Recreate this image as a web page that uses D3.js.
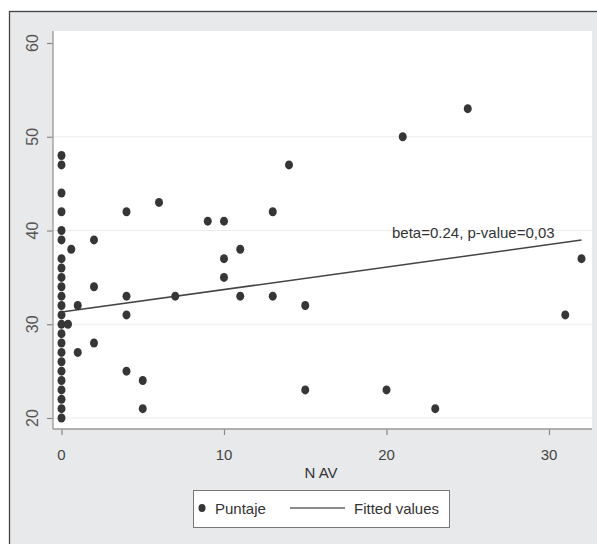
<!DOCTYPE html>
<html>
<head>
<meta charset="utf-8">
<script src="https://cdn.jsdelivr.net/npm/d3@7"></script>
<style>
  body { margin: 0; background: #fff; }
  text { font-family: "Liberation Sans", Arial, sans-serif; }
</style>
</head>
<body>
<div id="chart"></div>
<script>
/*
 *  DATA
 */
var nav = [0,0,0,0,0,0,0,0,0,0,0,0,0,0,0,0,0,0,0,0,0,0,0,0,
           0.6,0.4,1,1,2,2,2,4,4,4,4,5,5,6,7,9,10,10,10,11,11,13,13,14,15,15,20,21,23,25,31,32];
var puntaje = [20,21,22,23,24,25,26,27,28,29,30,31,32,33,34,35,36,37,39,40,42,44,47,48,
               38,30,32,27,39,34,28,42,33,31,25,24,21,43,33,41,41,37,35,38,33,42,33,47,32,23,23,50,21,53,31,37];
var x_ticks = [0, 10, 20, 30];
var y_ticks = [20, 30, 40, 50, 60];
var grid_lines = [20, 30, 40, 50];
var fit_x = [0, 32];
var fit_intercept = 31.3;
var fit_beta = 0.24;
var fit_label = "beta=0.24, p-value=0,03";
var x_title = "N AV";
var legend_labels = ["Puntaje", "Fitted values"];

/*
 *  LAYOUT
 */
var W = 597, H = 544;
var plot = {left: 53, right: 592, top: 31, bottom: 429};

var svg = d3.select('#chart')
    .append('svg')
        .attr('width', W)
        .attr('height', H);

// outer graph region
svg.append('rect')
    .attr('x', 9.5)
    .attr('y', 11.5)
    .attr('width', W)
    .attr('height', H)
    .attr('fill', '#e8e9ea')
    .attr('stroke', '#444')
    .attr('stroke-width', 1.3);

svg.append('rect')
    .attr('x', plot.left)
    .attr('y', plot.top)
    .attr('width', plot.right - plot.left)
    .attr('height', plot.bottom - plot.top)
    .attr('fill', '#fff');

var x_scale = d3.scaleLinear()
    .domain([0, 30])
    .range([61.5, 549]);
var y_scale = d3.scaleLinear()
    .domain([20, 60])
    .range([418, 43]);

// grid
svg.append('g')
    .selectAll('line')
    .data(grid_lines)
    .enter()
    .append('line')
        .attr('x1', plot.left)
        .attr('x2', plot.right)
        .attr('y1', function(d) { return y_scale(d); })
        .attr('y2', function(d) { return y_scale(d); })
        .attr('stroke', '#ececec')
        .attr('stroke-width', 1.2);

// axes
var y_axis = svg.append('g')
    .attr('transform', 'translate(' + plot.left + ',0)')
    .call(d3.axisLeft(y_scale).tickValues(y_ticks).tickSize(6).tickFormat(''));
var x_axis = svg.append('g')
    .attr('transform', 'translate(0,' + plot.bottom + ')')
    .call(d3.axisBottom(x_scale).tickValues(x_ticks).tickSize(6).tickFormat(''));

y_axis.select('.domain').remove();
x_axis.select('.domain').remove();
svg.selectAll('.tick line').attr('stroke', '#888').attr('stroke-width', 1.2);

svg.append('line')
    .attr('x1', plot.left).attr('x2', plot.left)
    .attr('y1', plot.top).attr('y2', plot.bottom)
    .attr('stroke', '#999').attr('stroke-width', 1.3);
svg.append('line')
    .attr('x1', plot.left).attr('x2', plot.right)
    .attr('y1', plot.bottom).attr('y2', plot.bottom)
    .attr('stroke', '#999').attr('stroke-width', 1.3);

// tick labels
svg.append('g')
    .selectAll('text')
    .data(y_ticks)
    .enter()
    .append('text')
        .attr('transform', function(d) { return 'translate(38,' + y_scale(d) + ')rotate(-90)'; })
        .attr('text-anchor', 'middle')
        .attr('font-size', 16)
        .attr('fill', '#555')
        .text(function(d) { return d; });

svg.append('g')
    .selectAll('text')
    .data(x_ticks)
    .enter()
    .append('text')
        .attr('x', function(d) { return x_scale(d); })
        .attr('y', 460)
        .attr('text-anchor', 'middle')
        .attr('font-size', 15)
        .attr('fill', '#444')
        .text(function(d) { return d; });

svg.append('text')
    .attr('x', 321)
    .attr('y', 478)
    .attr('text-anchor', 'middle')
    .attr('font-size', 15)
    .attr('fill', '#333')
    .text(x_title);

// fitted line
svg.append('line')
    .attr('x1', x_scale(fit_x[0]))
    .attr('y1', y_scale(fit_intercept + fit_beta * fit_x[0]))
    .attr('x2', x_scale(fit_x[1]))
    .attr('y2', y_scale(fit_intercept + fit_beta * fit_x[1]))
    .attr('stroke', '#444')
    .attr('stroke-width', 1.5);

svg.append('text')
    .attr('x', 392)
    .attr('y', 238)
    .attr('font-size', 15)
    .attr('fill', '#333')
    .text(fit_label);

// points
svg.append('g')
    .selectAll('ellipse')
    .data(nav)
    .enter()
    .append('ellipse')
        .attr('cx', function(d) { return x_scale(d); })
        .attr('cy', function(d, i) { return y_scale(puntaje[i]); })
        .attr('rx', 4)
        .attr('ry', 4.5)
        .attr('fill', '#363636');

// legend
var legend = svg.append('g');
legend.append('rect')
    .attr('x', 193.5)
    .attr('y', 490.5)
    .attr('width', 256)
    .attr('height', 37)
    .attr('fill', '#fff')
    .attr('stroke', '#777')
    .attr('stroke-width', 1);
legend.append('ellipse')
    .attr('cx', 202)
    .attr('cy', 508)
    .attr('rx', 3.5)
    .attr('ry', 4)
    .attr('fill', '#363636');
legend.append('text')
    .attr('x', 215)
    .attr('y', 514)
    .attr('font-size', 15)
    .attr('fill', '#333')
    .text(legend_labels[0]);
legend.append('line')
    .attr('x1', 290).attr('x2', 345)
    .attr('y1', 508).attr('y2', 508)
    .attr('stroke', '#666')
    .attr('stroke-width', 1.5);
legend.append('text')
    .attr('x', 354)
    .attr('y', 514)
    .attr('font-size', 15)
    .attr('fill', '#333')
    .text(legend_labels[1]);
</script>
</body>
</html>
